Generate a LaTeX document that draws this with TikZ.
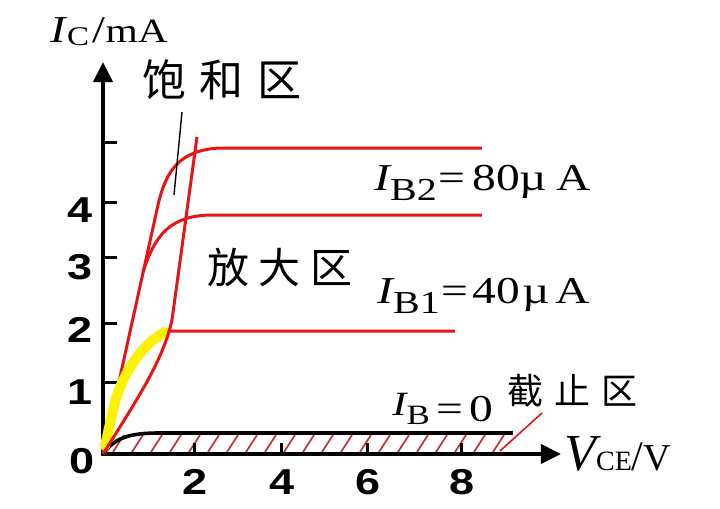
\documentclass[tikz,border=0pt]{standalone}
\usepackage{fontspec}
\setmainfont{Liberation Serif}
\newfontfamily\arial{Liberation Sans}
\newfontfamily\cjk{Noto Sans CJK SC}
\usetikzlibrary{arrows.meta}
\definecolor{cred}{RGB}{230,20,20}
\definecolor{cyel}{RGB}{250,242,0}
\definecolor{chatch}{RGB}{195,50,50}
\newcommand{\wid}[1]{\scalebox{1.25}[1]{#1}}
\begin{document}
\begin{tikzpicture}[x=0.5pt,y=-0.5pt,
  axis/.style={line width=2pt,-{Triangle[length=10pt,width=9.5pt]}},
  tickmark/.style={line width=1.5pt},
  curve/.style={cred,line width=1.5pt},
  hatchline/.style={chatch,line width=0.85pt},
  ticklab/.style={font=\fontsize{18}{18}\selectfont\arial\bfseries,inner sep=0pt},
  cjklab/.style={inner sep=0pt},
  serlab/.style={inner sep=0pt,anchor=base west}]
\useasboundingbox (0,0) rectangle (720,509);
\fill[white] (0,0) rectangle (720,509);
% coordinates
\coordinate (O) at (103,454);
\coordinate (ybot) at (103,456);
\coordinate (ytip) at (103,62);
\coordinate (xl) at (101,454);
\coordinate (xtip) at (561,454);
% hatching of cut-off region
\foreach \x in {113,132,...,494} \draw[hatchline] (\x,452) -- ++(11,-17);
% axes
\draw[axis] (ybot) -- (ytip);
\draw[axis] (xl) -- (xtip);
% y ticks
\foreach \y in {142,202,257,323,382} \draw[tickmark] (103,\y) -- (117,\y);
% x ticks
\foreach \x in {195,282,368,462} \draw[tickmark] (\x,454) -- (\x,443);
% tick labels
\node[ticklab] (y4) at (80,210) {\wid{4}};
\node[ticklab] (y3) at (80,267) {\wid{3}};
\node[ticklab] (y2) at (80,330) {\wid{2}};
\node[ticklab] (y1) at (80,392) {\wid{1}};
\node[ticklab] (y0) at (82,461) {\wid{0}};
\node[ticklab] (x2) at (195,482) {\wid{2}};
\node[ticklab] (x4) at (282,482) {\wid{4}};
\node[ticklab] (x6) at (368,482) {\wid{6}};
\node[ticklab] (x8) at (462,482) {\wid{8}};
% IB = 0 curve
\draw[line width=1.8pt] (O) .. controls (115,438) and (128,433) .. (160,433) -- (513,433);
% red output curves
\draw[curve] (O) -- (158,205) .. controls (166,170) and (180,150) .. (220,148) -- (482,148);
\draw[curve] (143,272) .. controls (155,235) and (170,216) .. (210,215) -- (482,215);
\draw[curve] (113,410) .. controls (120,378) and (140,345) .. (168,331) -- (455,331);
% yellow highlight
\draw[cyel,line width=5pt,line cap=round] (105,446) -- (113,410) .. controls (120,378) and (140,345) .. (165,332);
% saturation boundary
\draw[curve] (O) .. controls (140,395) and (163,360) .. (172,320) -- (197,137);
% pointers
\draw[line width=0.7pt] (182,112) -- (174,195);
\draw[cred,line width=0.8pt] (500,451) -- (542,413);
% region labels
\node[cjklab] (sat) at (222,80) {\fontsize{22}{22}\selectfont\cjk 饱\hspace{7pt}和\hspace{7pt}区};
\node[cjklab] (amp) at (280,268) {\fontsize{21}{21}\selectfont\cjk 放\hspace{5pt}大\hspace{5pt}区};
\node[cjklab] (cut) at (573,391) {\fontsize{18}{18}\selectfont\cjk 截\hspace{5.5pt}止\hspace{5.5pt}区};
% axis labels
\node[serlab] (ylab) at (50,42) {\scalebox{1.22}[1]{\fontsize{19}{19}\selectfont\itshape I\upshape\hspace{0.5pt}\raisebox{-1.5pt}{\fontsize{13.5}{13.5}\selectfont C}\fontsize{19}{19}\selectfont\hspace{1.5pt}/\fontsize{17}{17}\selectfont mA}};
\node[serlab] (xlab) at (564,470) {\fontsize{26}{26}\selectfont\itshape V\upshape{\fontsize{14}{14}\selectfont CE}{\fontsize{21}{21}\selectfont/}{\fontsize{19}{19}\selectfont V}};
% curve labels
\node[serlab] (ib2) at (374,190) {\wid{\fontsize{19}{19}\selectfont\itshape I\upshape\raisebox{-5pt}{\fontsize{16}{16}\selectfont B2}\hspace{0.5pt}=\hspace{3pt}80µ\hspace{3.5pt}A}};
\node[serlab] (ib1) at (377,303) {\wid{\fontsize{19}{19}\selectfont\itshape I\upshape\raisebox{-5pt}{\fontsize{16}{16}\selectfont B1}\hspace{0.5pt}=\hspace{2pt}40\hspace{1pt}µ\hspace{2pt}A}};
\node[serlab] (ib0) at (392,415) {\wid{\fontsize{17}{17}\selectfont\itshape I\upshape\raisebox{-5pt}{\fontsize{14}{14}\selectfont B}\hspace{2.5pt}\raisebox{-3pt}{\fontsize{19}{19}\selectfont=\hspace{2.5pt}0}}};
\end{tikzpicture}
\end{document}
